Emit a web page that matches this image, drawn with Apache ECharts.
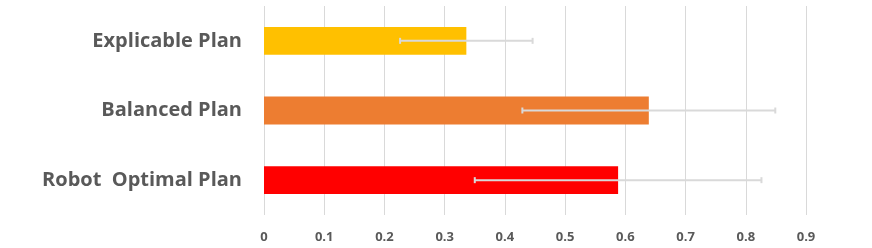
<!DOCTYPE html>
<html>
<head>
<meta charset="utf-8">
<script src="https://cdn.jsdelivr.net/npm/echarts@6/dist/echarts.min.js"></script>
<style>html,body{margin:0;padding:0;background:#fff}#c{width:872px;height:248px}</style>
</head>
<body>
<div id="c"></div>
<script>
var categories = ['Explicable Plan', 'Balanced Plan', 'Robot  Optimal Plan'];
var values = [0.336, 0.639, 0.588];
var errors = [0.110, 0.210, 0.238];
var colors = ['#FFC000', '#ED7D31', '#FF0000'];
var xTicks = [0, 0.1, 0.2, 0.3, 0.4, 0.5, 0.6, 0.7, 0.8, 0.9];

var chart = echarts.init(document.getElementById('c'));
var errData = values.map(function (v, i) { return [i, v - errors[i], v + errors[i]]; });
chart.setOption({
  animation: false,
  grid: { left: 264, right: 66, top: 6, bottom: 33 },
  xAxis: {
    type: 'value', min: 0, max: 0.9, interval: 0.1,
    axisLine: { show: false }, axisTick: { show: false },
    splitLine: { show: true, lineStyle: { color: '#d9d9d9', width: 1 } },
    axisLabel: {
      margin: 16, color: '#595959', fontSize: 13, fontWeight: 'bold',
      fontFamily: 'Open Sans',
      formatter: function (v) { var s = xTicks.find(function (t) { return Math.abs(t - v) < 1e-9; }); return s === undefined ? '' : String(s); }
    }
  },
  yAxis: {
    type: 'category', data: categories, inverse: true,
    axisLine: { show: false }, axisTick: { show: false },
    axisLabel: { margin: 22, color: '#595959', fontSize: 20, fontWeight: 'bold', fontFamily: 'Open Sans' }
  },
  series: [
    {
      type: 'bar', barWidth: '40%',
      data: values.map(function (v, i) { return { value: v, itemStyle: { color: colors[i] } }; })
    },
    {
      type: 'custom',
      data: errData,
      encode: { y: 0, x: [1, 2] },
      z: 10,
      renderItem: function (params, api) {
        var idx = api.value(0);
        var p1 = api.coord([api.value(1), idx]);
        var p2 = api.coord([api.value(2), idx]);
        var h = 3;
        var st = { stroke: '#d9d9d9', lineWidth: 2 };
        return {
          type: 'group',
          children: [
            { type: 'line', shape: { x1: p1[0], y1: p1[1], x2: p2[0], y2: p2[1] }, style: st },
            { type: 'line', shape: { x1: p1[0], y1: p1[1] - h, x2: p1[0], y2: p1[1] + h }, style: st },
            { type: 'line', shape: { x1: p2[0], y1: p2[1] - h, x2: p2[0], y2: p2[1] + h }, style: st }
          ]
        };
      }
    }
  ]
});
</script>
</body>
</html>
